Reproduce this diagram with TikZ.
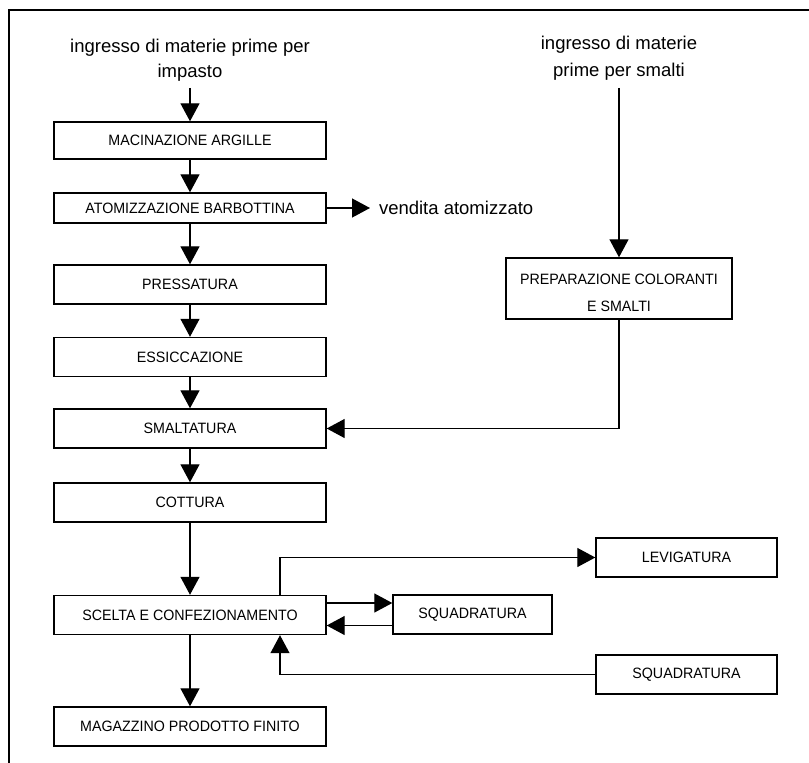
\documentclass[tikz,border=0pt]{standalone}
\usepackage{fontspec}
\setmainfont{Liberation Sans}
\newfontfamily\boxfont[FakeStretch=0.95]{Liberation Sans}
\usetikzlibrary{arrows.meta,calc}
\begin{document}
\begin{tikzpicture}[x=1pt,y=-1pt,
  box/.style={draw,line width=1.4pt,minimum width=272pt,minimum height=39pt,inner sep=0pt,font=\boxfont\fontsize{15}{27}\selectfont,align=center},
  lbl/.style={font=\fontsize{18.5}{25}\selectfont,align=center,inner sep=0pt,outer sep=0pt},
  arr/.style={line width=1.3pt,-{Triangle[length=18pt,width=19pt]}},
  frame/.style={line width=2pt}]
\useasboundingbox (0,0) rectangle (809,763);
\draw[frame] (9,763) -- (9,10) -- (809,10);

\node[lbl] (in1) at (190,60.7) {ingresso di materie prime per\\impasto};
\node[box,minimum height=37pt] (mac) at (190,140.5) {MACINAZIONE ARGILLE};
\node[box,minimum height=30pt] (atom) at (190,208) {ATOMIZZAZIONE BARBOTTINA};
\node[box] (pres) at (190,284.5) {PRESSATURA};
\node[box] (ess) at (190,357) {ESSICCAZIONE};
\node[box] (smal) at (190,428.5) {SMALTATURA};
\node[box] (cott) at (190,502.5) {COTTURA};
\node[box] (scel) at (190,615) {SCELTA E CONFEZIONAMENTO};
\node[box] (mag) at (190,726.5) {MAGAZZINO PRODOTTO FINITO};
\node[lbl,anchor=west,inner xsep=9pt] (vend) at (370,208) {vendita atomizzato};

\node[lbl,font=\fontsize{18.5}{27}\selectfont] (in2) at (619,58.7) {ingresso di materie\\prime per smalti};
\node[box,minimum width=226pt,minimum height=61pt] (prep) at (619,288.5) {\rule{0pt}{20pt}PREPARAZIONE COLORANTI\\E SMALTI};
\node[box,minimum width=181pt] (lev) at (686.5,557.5) {LEVIGATURA};
\node[box,minimum width=159pt] (sq1) at (472.5,614.5) {SQUADRATURA};
\node[box,minimum width=181pt] (sq2) at (686.5,674.5) {SQUADRATURA};
\coordinate (j) at (280,0);

\draw[arr,shorten <=6pt] (in1.south) -- (mac.north);
\draw[arr] (mac.south) -- (atom.north);
\draw[arr] (atom.south) -- (pres.north);
\draw[arr] (pres.south) -- (ess.north);
\draw[arr] (ess.south) -- (smal.north);
\draw[arr] (smal.south) -- (cott.north);
\draw[arr] (cott.south) -- (scel.north);
\draw[arr] (scel.south) -- (mag.north);
\draw[arr] (atom.east) -- (vend.west);
\draw[arr,shorten <=7pt] (in2.south) -- (prep.north);
\draw[arr] (prep.south) |- (smal.east);
\draw[arr] (scel.north -| j) |- (lev.west);
\draw[arr] ([yshift=12pt]scel.east) -- ([yshift=12pt]scel.east -| sq1.west);
\draw[arr] ([yshift=-11pt]sq1.west) -- ([yshift=-11pt]sq1.west -| scel.east);
\draw[arr] (sq2.west) -| (scel.south -| j);
\end{tikzpicture}
\end{document}
